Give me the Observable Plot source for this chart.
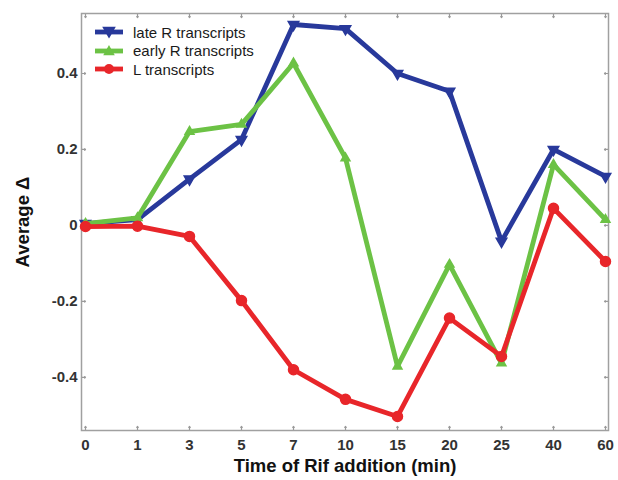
<!DOCTYPE html>
<html>
<head>
<meta charset="utf-8">
<script src="https://cdn.jsdelivr.net/npm/d3@7"></script>
<script src="https://cdn.jsdelivr.net/npm/@observablehq/plot@0.6"></script>
<style>
  html, body { margin: 0; padding: 0; background: #fff; }
  #wrap { position: relative; width: 618px; height: 480px; }
  #legend { position: absolute; left: 93px; top: 23px; font-family: "Liberation Sans", Arial, sans-serif; font-size: 15px; color: #1a1a1a; }
  #legend .row { display: flex; align-items: center; height: 18.5px; }
  #legend svg { display: block; flex: none; }
</style>
</head>
<body>
<div id="wrap"><div id="legend"></div></div>
<script>
// Categories (evenly spaced on the x axis)
const times = ["0", "1", "3", "5", "7", "10", "15", "20", "25", "40", "60"];
// Series values
const lateR  = [0.005, 0.015, 0.122, 0.226, 0.529, 0.518, 0.400, 0.353, -0.042, 0.200, 0.129];
const earlyR = [0.005, 0.020, 0.247, 0.266, 0.427, 0.177, -0.371, -0.103, -0.363, 0.160, 0.015];
const lT     = [-0.003, -0.002, -0.029, -0.198, -0.380, -0.458, -0.503, -0.244, -0.345, 0.045, -0.095];
const seriesNames = ["late R transcripts", "early R transcripts", "L transcripts"];
const seriesColors = ["#28399b", "#6cc245", "#e8262a"];
const seriesSymbols = ["triangle", "triangle", "circle"];
const seriesRotate = [180, 0, 0];
const seriesR = [3.9, 3.3, 5];
// Tick labels
const yTicks = [-0.4, -0.2, 0, 0.2, 0.4];
const yTickLabels = ["-0.4", "-0.2", "0", "0.2", "0.4"];

const allValues = [lateR, earlyR, lT];
const rows = [];
allValues.forEach((vals, si) => vals.forEach((v, i) => rows.push({series: seriesNames[si], t: times[i], v})));

const font = '"Liberation Sans", Arial, sans-serif';
const lineMarks = [];
seriesNames.forEach((name, si) => {
  const d = rows.filter(r => r.series === name);
  lineMarks.push(Plot.line(d, {x: "t", y: "v", stroke: seriesColors[si], strokeWidth: 4.8, strokeLinejoin: "round"}));
  lineMarks.push(Plot.dot(d, {x: "t", y: "v", fill: seriesColors[si], stroke: seriesColors[si], strokeWidth: 1.5, symbol: seriesSymbols[si], rotate: seriesRotate[si], r: seriesR[si]}));
});

const tickStroke = "#999";
const chart = Plot.plot({
  width: 618,
  height: 480,
  marginLeft: 81,
  marginRight: 10,
  marginTop: 13,
  marginBottom: 50,
  style: {fontFamily: font, background: "#fff"},
  x: {type: "point", domain: times, padding: 0},
  y: {domain: [-0.54, 0.558]},
  marks: [
    // inward ticks on all four sides
    Plot.vector(yTicks, {y: d => d, frameAnchor: "left", rotate: 90, length: 4, anchor: "start", stroke: tickStroke, strokeWidth: 1.2}),
    Plot.vector(yTicks, {y: d => d, frameAnchor: "right", rotate: -90, length: 4, anchor: "start", stroke: tickStroke, strokeWidth: 1.2}),
    Plot.vector(times, {x: d => d, frameAnchor: "bottom", rotate: 0, length: 4, anchor: "start", stroke: tickStroke, strokeWidth: 1.2}),
    Plot.vector(times, {x: d => d, frameAnchor: "top", rotate: 180, length: 4, anchor: "start", stroke: tickStroke, strokeWidth: 1.2}),
    Plot.axisY(yTicks, {tickSize: 0, tickPadding: 4, tickFormat: (d, i) => yTickLabels[i], fontSize: 15, fontWeight: "bold", fill: "#333",
      label: "Average Δ", labelAnchor: "center", labelOffset: 66, labelArrow: "none"}),
    Plot.axisX(times, {tickSize: 0, tickPadding: 8.5, fontSize: 15, fontWeight: "bold", fill: "#333",
      label: "Time of Rif addition (min)", labelAnchor: "center", labelOffset: 41, labelArrow: "none"}),
    Plot.frame({stroke: "#a0a0a0", strokeWidth: 1.5}),
    ...lineMarks
  ]
});
// style axis labels
chart.querySelectorAll("[aria-label='y-axis label'] text, [aria-label='x-axis label'] text").forEach(t => {
  t.setAttribute("font-size", "18.5");
  t.setAttribute("font-weight", "bold");
  t.setAttribute("fill", "#111");
});
document.getElementById("wrap").prepend(chart);
chart.style.position = "absolute"; chart.style.left = "0"; chart.style.top = "0";

// Legend
const legend = document.getElementById("legend");
seriesNames.forEach((name, si) => {
  const row = document.createElement("div");
  row.className = "row";
  const c = seriesColors[si];
  let marker;
  if (seriesSymbols[si] === "circle") marker = `<circle cx="16" cy="9" r="5" fill="${c}"/>`;
  else if (seriesRotate[si]) marker = `<path d="M16,14 L21.5,4.5 L10.5,4.5 Z" fill="${c}" stroke="${c}" stroke-width="1.5"/>`;
  else marker = `<path d="M16,4.5 L20.5,12.5 L11.5,12.5 Z" fill="${c}" stroke="${c}" stroke-width="1.5"/>`;
  row.innerHTML = `<svg width="40" height="18"><line x1="2" x2="30" y1="9" y2="9" stroke="${c}" stroke-width="4.8"/>${marker}</svg><span>${name}</span>`;
  legend.appendChild(row);
});
</script>
</body>
</html>
